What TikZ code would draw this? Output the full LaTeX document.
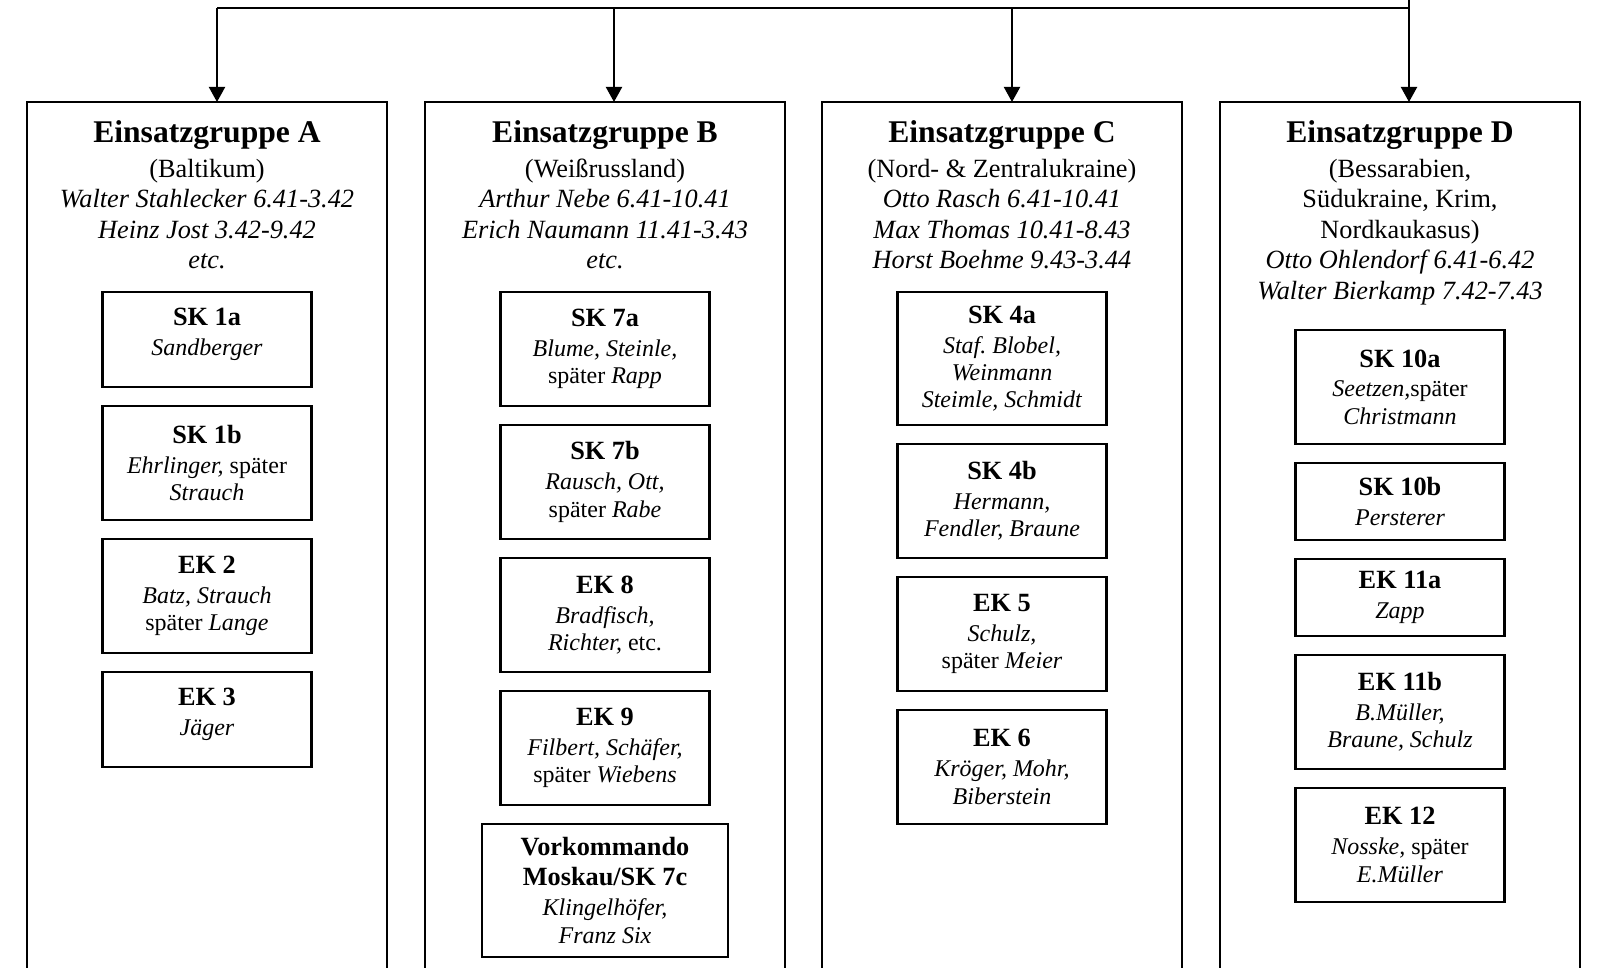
\documentclass[tikz,border=0pt]{standalone}
\usepackage{fontspec}
\setmainfont{Liberation Serif}
\usepackage{tikz}
\usetikzlibrary{positioning}
\usetikzlibrary{arrows.meta}
\tikzset{
    %Define standard arrow tip
    >={Triangle[length=7.5pt,width=8pt]},
    % Define arrow style
    pfeil/.style={
           ->,
           color=black,
           line width=1pt,}
}
\frenchspacing
\newcommand{\grpfont}{\fontsize{13.15pt}{15.25pt}\selectfont}
\newcommand{\grptitle}[1]{{\fontsize{15.8pt}{15.25pt}\selectfont\bfseries #1}}
\newcommand{\skfont}{\fontsize{12pt}{13.65pt}\selectfont}
\newcommand{\sktitle}[1]{{\fontsize{13.15pt}{13.65pt}\selectfont\bfseries #1}}

\begin{document}
\begin{tikzpicture}[x=0.5pt, y=-0.5pt, node distance=9.5pt, outer sep=0pt]
\tikzstyle{gruppe}=[draw=black, fill=white, rectangle, line width=1pt,
    minimum width=180pt, minimum height=450pt, anchor=north, inner sep=0pt]
%
\tikzstyle{kopf}=[align=center, anchor=north, inner sep=0pt, font=\grpfont]
%
\tikzstyle{kommando}=[draw=black, fill=white, rectangle, line width=1.1pt,
    minimum width=104.5pt, minimum height=57pt, align=center, inner sep=0pt, font=\skfont]
%
\tikzstyle{kurz}=[kommando, minimum height=38.5pt]
\tikzstyle{mittel}=[kommando, minimum height=47.5pt, text depth=7.6pt]
\tikzstyle{lang}=[kommando, minimum height=66.5pt]

\useasboundingbox (0,0) rectangle (1597,968);
\clip (0,0) rectangle (1597,968);

% Einsatzgruppen
\node[gruppe] (ga) at (207,102) {};
\node[gruppe] (gb) at (605,102) {};
\node[gruppe] (gc) at (1002,102) {};
\node[gruppe] (gd) at (1400,102) {};

\node[kopf] (ka) at (207,121) {\grptitle{Einsatzgruppe A}\\[2pt] (Baltikum)\\
    \textit{Walter Stahlecker 6.41-3.42}\\ \textit{Heinz Jost 3.42-9.42}\\ \textit{etc.}};
\node[kopf] (kb) at (605,121) {\grptitle{Einsatzgruppe B}\\[2pt] (Weißrussland)\\
    \textit{Arthur Nebe 6.41-10.41}\\ \textit{Erich Naumann 11.41-3.43}\\ \textit{etc.}};
\node[kopf] (kc) at (1002,121) {\grptitle{Einsatzgruppe C}\\[2pt] (Nord- \& Zentralukraine)\\
    \textit{Otto Rasch 6.41-10.41}\\ \textit{Max Thomas 10.41-8.43}\\ \textit{Horst Boehme 9.43-3.44}};
\node[kopf] (kd) at (1400,121) {\grptitle{Einsatzgruppe D}\\[2pt] (Bessarabien,\\ Südukraine, Krim,\\
    Nordkaukasus)\\ \textit{Otto Ohlendorf 6.41-6.42}\\ \textit{Walter Bierkamp 7.42-7.43}};

% Verbindungen
\coordinate (wurzel) at (1409,0);
\coordinate (ja) at (217,8);
\coordinate (jb) at (614,8);
\coordinate (jc) at (1012,8);
\coordinate (jd) at (1409,8);
\draw[line width=1pt] (wurzel) -- (jd) -- (ja);
\foreach \g in {a,b,c,d}
    \draw[pfeil] (j\g) -- (j\g |- g\g.north);

% Kommandos A
\node[mittel, anchor=north] (sk1a) at (207,292) {\sktitle{SK 1a}\\[1.3pt] \textit{Sandberger}};
\node[kommando, below=of sk1a] (sk1b) {\sktitle{SK 1b}\\[1.3pt] \textit{Ehrlinger,} später\\ \textit{Strauch}};
\node[kommando, below=of sk1b] (ek2) {\sktitle{EK 2}\\[1.3pt] \textit{Batz, Strauch}\\ später \textit{Lange}};
\node[mittel, below=of ek2] (ek3) {\sktitle{EK 3}\\[1.3pt] \textit{Jäger}};

% Kommandos B
\node[kommando, anchor=north] (sk7a) at (605,292) {\sktitle{SK 7a}\\[1.3pt] \textit{Blume, Steinle,}\\ später \textit{Rapp}};
\node[kommando, below=of sk7a] (sk7b) {\sktitle{SK 7b}\\[1.3pt] \textit{Rausch, Ott,}\\ später \textit{Rabe}};
\node[kommando, below=of sk7b] (ek8) {\sktitle{EK 8}\\[1.3pt] \textit{Bradfisch,}\\ \textit{Richter,} etc.};
\node[kommando, below=of ek8] (ek9) {\sktitle{EK 9}\\[1.3pt] \textit{Filbert, Schäfer,}\\ später \textit{Wiebens}};
\node[lang, minimum width=123pt, below=of ek9] (sk7c) {\sktitle{Vorkommando}\\[1.3pt] \sktitle{Moskau/SK 7c}\\[1.3pt]
    \textit{Klingelhöfer,}\\ \textit{Franz Six}};

% Kommandos C
\node[lang, anchor=north] (sk4a) at (1002,292) {\sktitle{SK 4a}\\[1.3pt] \textit{Staf. Blobel,}\\ \textit{Weinmann}\\ \textit{Steimle, Schmidt}};
\node[kommando, below=of sk4a] (sk4b) {\sktitle{SK 4b}\\[1.3pt] \textit{Hermann,}\\ \textit{Fendler, Braune}};
\node[kommando, below=of sk4b] (ek5) {\sktitle{EK 5}\\[1.3pt] \textit{Schulz,}\\ später \textit{Meier}};
\node[kommando, below=of ek5] (ek6) {\sktitle{EK 6}\\[1.3pt] \textit{Kröger, Mohr,}\\ \textit{Biberstein}};

% Kommandos D
\node[kommando, anchor=north] (sk10a) at (1400,330) {\sktitle{SK 10a}\\[1.3pt] \textit{Seetzen,}später\\ \textit{Christmann}};
\node[kurz, below=of sk10a] (sk10b) {\sktitle{SK 10b}\\[1.3pt] \textit{Persterer}};
\node[kurz, below=of sk10b] (ek11a) {\sktitle{EK 11a}\\[1.3pt] \textit{Zapp}};
\node[kommando, below=of ek11a] (ek11b) {\sktitle{EK 11b}\\[1.3pt] \textit{B.Müller,}\\ \textit{Braune, Schulz}};
\node[kommando, below=of ek11b] (ek12) {\sktitle{EK 12}\\[1.3pt] \textit{Nosske,} später\\ \textit{E.Müller}};

\end{tikzpicture}
\end{document}
